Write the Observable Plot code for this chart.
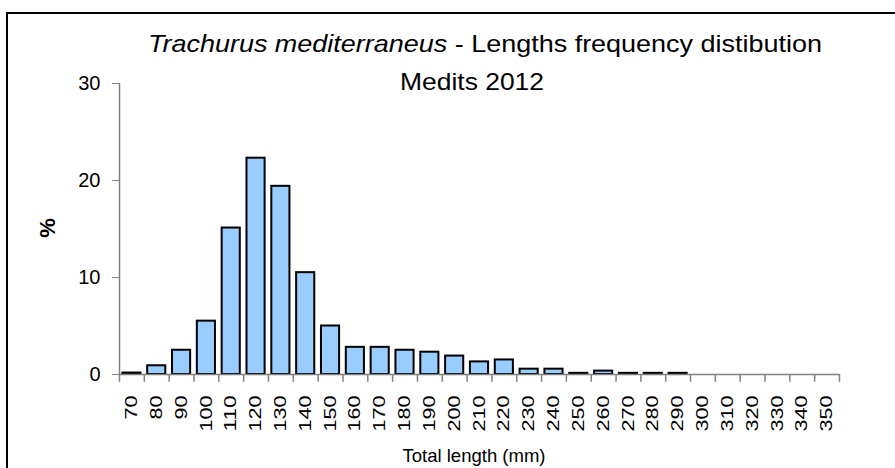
<!DOCTYPE html>
<html>
<head>
<meta charset="utf-8">
<script src="https://cdn.jsdelivr.net/npm/d3@7"></script>
<script src="https://cdn.jsdelivr.net/npm/@observablehq/plot@0.6"></script>
<style>
  html, body { margin: 0; padding: 0; background: #fff; }
  #chart { width: 895px; height: 468px; overflow: hidden; }
</style>
</head>
<body>
<div id="chart"></div>
<script>
// Categories: total length classes (mm)
const lengths = [70, 80, 90, 100, 110, 120, 130, 140, 150, 160, 170, 180, 190, 200,
  210, 220, 230, 240, 250, 260, 270, 280, 290, 300, 310, 320, 330, 340, 350];
// Series: percentage frequency
const percent = [0.15, 0.9, 2.5, 5.5, 15.1, 22.3, 19.4, 10.5, 5.0, 2.8, 2.8, 2.5, 2.3, 1.9,
  1.3, 1.5, 0.55, 0.55, 0.12, 0.35, 0.12, 0.12, 0.12, 0, 0, 0, 0, 0, 0];
const yTicks = [0, 10, 20, 30];
const titleItalic = "Trachurus mediterraneus";
const titleRest = " - Lengths frequency distibution";
const subtitle = "Medits 2012";
const xLabel = "Total length (mm)";
const yLabel = "%";

const data = lengths.map((l, i) => ({len: l, v: percent[i]}));

const W = 895, H = 468;
const mL = 119, mR = 56, mT = 83, mB = 94;
const step = (W - mL - mR) / lengths.length;
const axisGray = "#808080";

const chart = Plot.plot({
  width: W, height: H,
  marginLeft: mL, marginRight: mR, marginTop: mT, marginBottom: mB,
  style: {fontFamily: "'Liberation Sans', Arial, sans-serif", color: "black", background: "white", overflow: "visible"},
  x: {type: "band", domain: lengths, paddingInner: 0.27, paddingOuter: 0.135, round: false, label: null},
  y: {domain: [0, 30], label: null},
  marks: [
    // y axis line at left boundary of first category
    Plot.ruleX([lengths[0]], {y1: 0, y2: 30, dx: -step / 2, stroke: axisGray, strokeWidth: 1.5}),
    Plot.axisY({ticks: yTicks, tickSize: 7, tickPadding: 12, fontSize: 20, stroke: axisGray, label: null}),
    Plot.barY(data.filter(d => d.v > 0), {x: "len", y: "v", fill: "#99ccff", stroke: "black", strokeWidth: 2}),
    Plot.ruleY([0], {stroke: axisGray, strokeWidth: 1.5}),
    // category boundary tick marks
    Plot.ruleX(lengths, {x: d => d, y1: 0, y2: -0.8, dx: -step / 2, stroke: axisGray, strokeWidth: 1.5}),
    Plot.ruleX([lengths[lengths.length - 1]], {x: d => d, y1: 0, y2: -0.8, dx: step / 2, stroke: axisGray, strokeWidth: 1.5}),
    Plot.axisX({tickSize: 0, tickPadding: 21, tickRotate: -90, fontSize: 16, label: null})
  ]
});

const svg = d3.select(chart);
// stretch x tick labels like the reference
svg.selectAll('g[aria-label="x-axis tick label"] text').each(function() {
  const t = d3.select(this);
  const n = t.text().length;
  t.attr("textLength", n * 12).attr("lengthAdjust", "spacingAndGlyphs");
});

// outer frame
svg.append("rect").attr("x", 7).attr("y", 13).attr("width", 900).attr("height", 500)
  .attr("fill", "none").attr("stroke", "black").attr("stroke-width", 2);

// title
const t1 = svg.append("text").attr("x", 485).attr("y", 52).attr("text-anchor", "middle")
  .attr("font-size", 24).attr("fill", "black")
  .attr("textLength", 674).attr("lengthAdjust", "spacingAndGlyphs");
t1.append("tspan").attr("font-style", "italic").text(titleItalic);
t1.append("tspan").text(titleRest);
svg.append("text").attr("x", 472).attr("y", 90).attr("text-anchor", "middle")
  .attr("font-size", 24).attr("fill", "black")
  .attr("textLength", 144).attr("lengthAdjust", "spacingAndGlyphs").text(subtitle);

// axis titles
svg.append("text").attr("x", 474).attr("y", 462).attr("text-anchor", "middle")
  .attr("font-size", 18.5).attr("fill", "black").text(xLabel);
svg.append("text").attr("transform", "translate(55,228) rotate(-90)").attr("text-anchor", "middle")
  .attr("font-size", 22).attr("font-weight", "bold").attr("fill", "black").text(yLabel);

document.getElementById("chart").appendChild(chart);
</script>
</body>
</html>
